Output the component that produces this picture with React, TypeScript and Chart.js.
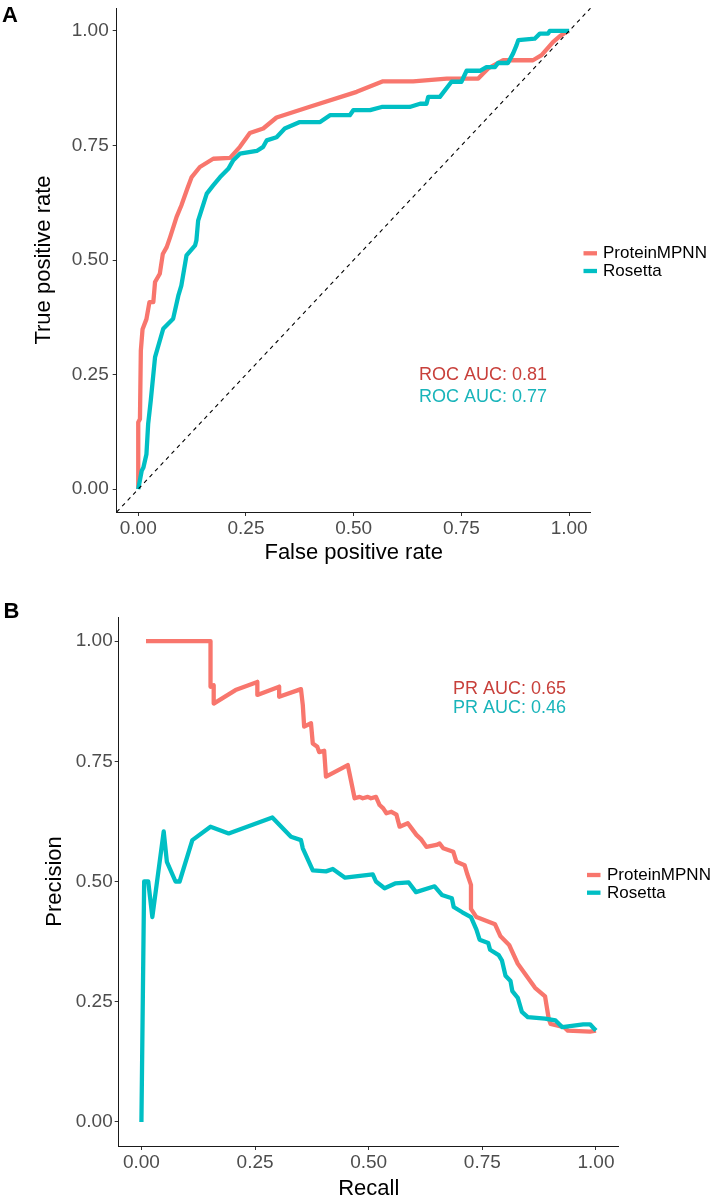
import React, { useEffect, useRef } from "react";
import { Chart, registerables } from "chart.js";

Chart.register(...registerables);

const FONT = '"Liberation Sans", Arial, Helvetica, sans-serif';
Chart.defaults.font.family = FONT;

const seriesNames = ["ProteinMPNN", "Rosetta"];
const seriesColors = ["#F8766D", "#00BFC4"];
const labelColors = ["#C8403B", "#19B4BA"];
const tickValues = [0, 0.25, 0.5, 0.75, 1];
const axisRange = [-0.05, 1.05];

// ---- Panel A: ROC ----
const rocMpnnFpr = [0, 0, 0.004, 0.006, 0.01, 0.019, 0.026, 0.035, 0.039, 0.05, 0.057, 0.066, 0.074, 0.089, 0.1, 0.114, 0.124, 0.143, 0.174, 0.213, 0.236, 0.259, 0.29, 0.321, 0.4, 0.507, 0.568, 0.638, 0.716, 0.789, 0.812, 0.847, 0.916, 0.936, 0.963, 0.978, 0.994, 1];
const rocMpnnTpr = [0, 0.146, 0.153, 0.302, 0.349, 0.371, 0.408, 0.408, 0.452, 0.47, 0.513, 0.528, 0.55, 0.594, 0.619, 0.656, 0.681, 0.703, 0.721, 0.723, 0.747, 0.777, 0.787, 0.811, 0.835, 0.867, 0.89, 0.89, 0.896, 0.896, 0.918, 0.936, 0.936, 0.947, 0.976, 0.988, 0.998, 1];

const rocRosFpr = [0, 0.008, 0.012, 0.019, 0.023, 0.029, 0.039, 0.058, 0.081, 0.093, 0.1, 0.112, 0.132, 0.135, 0.139, 0.159, 0.174, 0.19, 0.209, 0.22, 0.236, 0.275, 0.29, 0.298, 0.321, 0.34, 0.375, 0.422, 0.445, 0.491, 0.499, 0.538, 0.565, 0.63, 0.654, 0.669, 0.673, 0.7, 0.727, 0.75, 0.762, 0.793, 0.808, 0.828, 0.835, 0.858, 0.87, 0.878, 0.882, 0.92, 0.932, 0.951, 0.955, 1];
const rocRosTpr = [0, 0.04, 0.047, 0.076, 0.142, 0.193, 0.288, 0.35, 0.372, 0.422, 0.444, 0.51, 0.532, 0.543, 0.586, 0.645, 0.663, 0.681, 0.699, 0.717, 0.732, 0.738, 0.747, 0.761, 0.768, 0.787, 0.801, 0.801, 0.816, 0.816, 0.827, 0.827, 0.834, 0.834, 0.841, 0.841, 0.856, 0.856, 0.889, 0.889, 0.913, 0.913, 0.921, 0.921, 0.93, 0.93, 0.951, 0.969, 0.98, 0.983, 0.994, 0.994, 1, 1];

const rocAuc = [0.81, 0.77];

// ---- Panel B: PR ----
const prMpnnRecall = [0.01, 0.152, 0.152, 0.159, 0.159, 0.207, 0.255, 0.255, 0.303, 0.303, 0.351, 0.355, 0.358, 0.373, 0.377, 0.387, 0.391, 0.402, 0.406, 0.43, 0.454, 0.461, 0.469, 0.48, 0.487, 0.498, 0.505, 0.516, 0.524, 0.532, 0.539, 0.55, 0.561, 0.568, 0.586, 0.594, 0.605, 0.616, 0.627, 0.649, 0.656, 0.664, 0.686, 0.693, 0.711, 0.717, 0.725, 0.725, 0.737, 0.778, 0.79, 0.809, 0.828, 0.866, 0.888, 0.896, 0.9, 0.93, 0.938, 0.987, 1];
const prMpnnPrecision = [1, 1, 0.905, 0.908, 0.87, 0.898, 0.915, 0.888, 0.905, 0.884, 0.9, 0.867, 0.822, 0.829, 0.787, 0.78, 0.769, 0.772, 0.718, 0.73, 0.742, 0.71, 0.673, 0.676, 0.673, 0.676, 0.673, 0.676, 0.659, 0.652, 0.642, 0.645, 0.639, 0.614, 0.621, 0.611, 0.597, 0.587, 0.572, 0.576, 0.579, 0.569, 0.562, 0.541, 0.534, 0.515, 0.493, 0.443, 0.426, 0.411, 0.386, 0.368, 0.329, 0.279, 0.261, 0.215, 0.204, 0.197, 0.19, 0.188, 0.19];

const prRosRecall = [0, 0.006, 0.015, 0.024, 0.049, 0.056, 0.075, 0.084, 0.112, 0.152, 0.192, 0.288, 0.329, 0.351, 0.355, 0.377, 0.406, 0.421, 0.448, 0.509, 0.516, 0.535, 0.558, 0.588, 0.604, 0.645, 0.661, 0.683, 0.687, 0.706, 0.725, 0.737, 0.744, 0.763, 0.767, 0.786, 0.793, 0.801, 0.812, 0.816, 0.828, 0.837, 0.85, 0.888, 0.911, 0.926, 0.972, 0.987, 0.995, 1];
const prRosPrecision = [0, 0.5, 0.5, 0.426, 0.604, 0.541, 0.5, 0.5, 0.586, 0.614, 0.6, 0.633, 0.593, 0.586, 0.569, 0.523, 0.521, 0.526, 0.508, 0.515, 0.5, 0.486, 0.496, 0.498, 0.478, 0.49, 0.472, 0.465, 0.447, 0.436, 0.426, 0.4, 0.379, 0.372, 0.358, 0.347, 0.336, 0.304, 0.293, 0.272, 0.258, 0.229, 0.218, 0.215, 0.211, 0.197, 0.203, 0.203, 0.195, 0.19];

const prAuc = [0.65, 0.46];

const pts = (xs: number[], ys: number[]) => xs.map((x, i) => ({ x, y: ys[i] }));

type PanelCfg = {
  letter: string;
  letterX: number;
  letterY: number;
  xTitle: string;
  yTitle: string;
  pad: { left: number; top: number; right: number; bottom: number };
  yAxisW: number;
  xAxisH: number;
  yTitlePad: number;
  xTitlePad: number;
  yTickPad: number;
  xTickPad: number;
  series: number[][][];
  diagonal: boolean;
  annotX: number;
  annotY: number[];
  annotText: string[];
  legendKeyX: number;
  legendKeyW: number;
  legendTextX: number;
  legendY: number[];
};

const panelA: PanelCfg = {
  letter: "A",
  letterX: 2,
  letterY: 21.5,
  xTitle: "False positive rate",
  yTitle: "True positive rate",
  pad: { left: 0, top: 8, right: 130.3, bottom: 8 },
  yAxisW: 116.7,
  xAxisH: 60,
  yTitlePad: 30.8,
  xTitlePad: 5.8,
  yTickPad: 4,
  xTickPad: 1,
  series: [
    [rocMpnnFpr, rocMpnnTpr],
    [rocRosFpr, rocRosTpr],
  ],
  diagonal: true,
  annotX: 0.8,
  annotY: [0.25, 0.2],
  annotText: rocAuc.map((v) => `ROC AUC: ${v.toFixed(2)}`),
  legendKeyX: 583.5,
  legendKeyW: 13.5,
  legendTextX: 603,
  legendY: [253.3, 271],
};

const panelB: PanelCfg = {
  letter: "B",
  letterX: 3.5,
  letterY: 38.3,
  xTitle: "Recall",
  yTitle: "Precision",
  pad: { left: 0, top: 37, right: 102.3, bottom: 14 },
  yAxisW: 118.7,
  xAxisH: 60,
  yTitlePad: 42.2,
  xTitlePad: 4.3,
  yTickPad: 2,
  xTickPad: 1,
  series: [
    [prMpnnRecall, prMpnnPrecision],
    [prRosRecall, prRosPrecision],
  ],
  diagonal: false,
  annotX: 0.81,
  annotY: [0.9, 0.86],
  annotText: prAuc.map((v) => `PR AUC: ${v.toFixed(2)}`),
  legendKeyX: 587,
  legendKeyW: 13.5,
  legendTextX: 607,
  legendY: [295, 312.7],
};

function overlayPlugin(cfg: PanelCfg) {
  return {
    id: "overlay" + cfg.letter,
    afterDatasetsDraw(chart: any) {
      const ctx = chart.ctx as CanvasRenderingContext2D;
      const xs = chart.scales.x;
      const ys = chart.scales.y;
      ctx.save();
      // AUC annotations
      ctx.font = `18px ${FONT}`;
      ctx.textAlign = "center";
      ctx.textBaseline = "middle";
      cfg.annotText.forEach((t, i) => {
        ctx.fillStyle = labelColors[i];
        ctx.fillText(t, xs.getPixelForValue(cfg.annotX), ys.getPixelForValue(cfg.annotY[i]));
      });
      // legend
      ctx.font = `17px ${FONT}`;
      ctx.textAlign = "left";
      ctx.textBaseline = "middle";
      seriesNames.forEach((name, i) => {
        const y = cfg.legendY[i];
        ctx.strokeStyle = seriesColors[i];
        ctx.lineWidth = 4.3;
        ctx.lineCap = "butt";
        ctx.beginPath();
        ctx.moveTo(cfg.legendKeyX, y);
        ctx.lineTo(cfg.legendKeyX + cfg.legendKeyW, y);
        ctx.stroke();
        ctx.fillStyle = "#000000";
        ctx.fillText(name, cfg.legendTextX, y + 0.5);
      });
      // panel letter
      ctx.font = `bold 22px ${FONT}`;
      ctx.textAlign = "left";
      ctx.textBaseline = "alphabetic";
      ctx.fillStyle = "#000000";
      ctx.fillText(cfg.letter, cfg.letterX, cfg.letterY);
      ctx.restore();
    },
  };
}

function axisOptions(title: string, titlePad: any, tickPad: number, fit: (s: any) => void) {
  return {
    type: "linear" as const,
    min: axisRange[0],
    max: axisRange[1],
    afterBuildTicks: (s: any) => {
      s.ticks = tickValues.map((v) => ({ value: v }));
    },
    afterFit: fit,
    ticks: {
      callback: (v: any) => Number(v).toFixed(2),
      color: "#4D4D4D",
      font: { family: FONT, size: 19 },
      padding: tickPad,
      autoSkip: false,
      maxRotation: 0,
      minRotation: 0,
    },
    grid: {
      display: true,
      drawOnChartArea: false,
      drawTicks: true,
      tickLength: 4,
      color: "#333333",
      lineWidth: 1,
    },
    border: { display: true, color: "#1A1A1A", width: 1 },
    title: {
      display: true,
      text: title,
      color: "#000000",
      font: { family: FONT, size: 22 },
      padding: titlePad,
    },
  };
}

function makeChart(canvas: HTMLCanvasElement, cfg: PanelCfg) {
  const datasets: any[] = [];
  cfg.series.forEach(([xs, ys], i) => {
    datasets.push({
      label: seriesNames[i],
      data: pts(xs, ys),
      borderColor: seriesColors[i],
      backgroundColor: seriesColors[i],
      borderWidth: 4.3,
      pointRadius: 0,
      pointHoverRadius: 0,
      showLine: true,
      fill: false,
      tension: 0,
      borderJoinStyle: "round",
      borderCapStyle: "butt",
      order: 2 - i,
    });
  });
  if (cfg.diagonal) {
    datasets.push({
      label: "chance",
      data: pts(axisRange, axisRange),
      borderColor: "#000000",
      borderWidth: 1.1,
      borderDash: [4, 4],
      pointRadius: 0,
      showLine: true,
      fill: false,
      order: 0,
    });
  }
  return new Chart(canvas, {
    type: "scatter",
    data: { datasets },
    options: {
      animation: false,
      responsive: false,
      maintainAspectRatio: false,
      devicePixelRatio: 1,
      layout: { padding: cfg.pad },
      plugins: { legend: { display: false }, tooltip: { enabled: false } },
      scales: {
        x: axisOptions(cfg.xTitle, { top: 0, bottom: cfg.xTitlePad }, cfg.xTickPad, (s: any) => {
          s.height = cfg.xAxisH;
          s.paddingLeft = 0;
          s.paddingRight = 0;
        }),
        y: axisOptions(cfg.yTitle, { top: cfg.yTitlePad, bottom: 0 }, cfg.yTickPad, (s: any) => {
          s.width = cfg.yAxisW;
          s.paddingTop = 0;
          s.paddingBottom = 0;
        }),
      },
    } as any,
    plugins: [overlayPlugin(cfg)],
  });
}

export default function App() {
  const refA = useRef<HTMLCanvasElement>(null);
  const refB = useRef<HTMLCanvasElement>(null);
  useEffect(() => {
    const a = makeChart(refA.current!, panelA);
    const b = makeChart(refB.current!, panelB);
    return () => {
      a.destroy();
      b.destroy();
    };
  }, []);
  return (
    <div
      style={{
        position: "fixed",
        left: 0,
        top: 0,
        width: 721,
        height: 1197,
        overflow: "hidden",
        background: "#ffffff",
      }}
    >
      <canvas ref={refA} width={721} height={580} style={{ position: "absolute", left: 0, top: 0, width: 721, height: 580 }} />
      <canvas ref={refB} width={721} height={640} style={{ position: "absolute", left: 0, top: 580, width: 721, height: 640 }} />
    </div>
  );
}
